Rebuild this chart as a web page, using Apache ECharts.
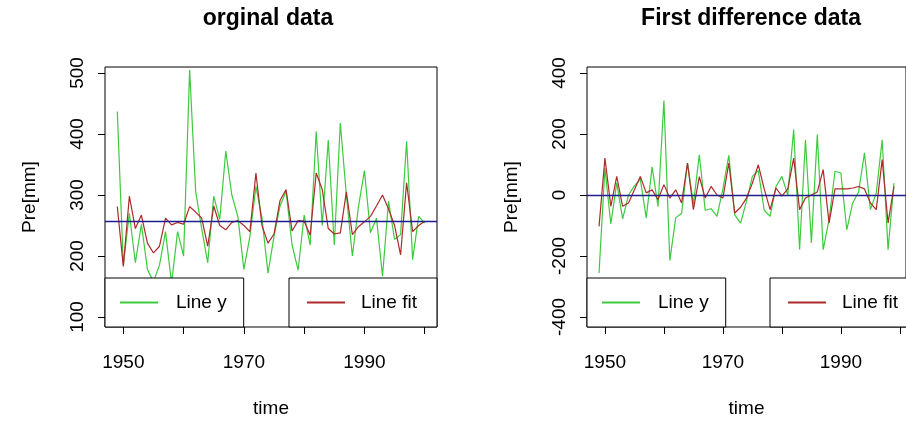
<!DOCTYPE html>
<html><head><meta charset="utf-8">
<script src="https://cdn.jsdelivr.net/npm/echarts@6/dist/echarts.min.js"></script>
<style>html,body{margin:0;padding:0;background:#fff}#c{width:906px;height:423px}</style>
</head><body><div id="c"></div>
<script>
// ---- data ----
const years = [1949,1950,1951,1952,1953,1954,1955,1956,1957,1958,1959,1960,1961,1962,1963,1964,1965,1966,1967,1968,1969,1970,1971,1972,1973,1974,1975,1976,1977,1978,1979,1980,1981,1982,1983,1984,1985,1986,1987,1988,1989,1990,1991,1992,1993,1994,1995,1996,1997,1998,1999,2000];
const origY = [437,185,270,189,252,178,158,185,240,155,240,200,505,306,245,189,298,260,372,300,265,178,232,314,262,172,232,282,306,218,177,267,218,404,250,390,218,418,300,200,280,340,238,262,167,290,227,235,388,194,265,254];
const origFit = [281,183,298,245,267,221,205,216,262,251,255,252,281,272,262,216,282,250,243,255,258,250,240,336,250,221,236,291,309,241,258,257,234,336,309,245,236,238,305,235,248,256,265,282,300,277,250,202,320,240,250,257];
const diffYears = [1949,1950,1951,1952,1953,1954,1955,1956,1957,1958,1959,1960,1961,1962,1963,1964,1965,1966,1967,1968,1969,1970,1971,1972,1973,1974,1975,1976,1977,1978,1979,1980,1981,1982,1983,1984,1985,1986,1987,1988,1989,1990,1991,1992,1993,1994,1995,1996,1997,1998,1999];
const diffY = [-256,88,-95,40,-78,0,30,52,-75,92,-38,310,-215,-75,-60,105,-30,132,-50,-45,-70,20,130,-65,-92,-20,61,80,-50,-70,28,61,0,215,-179,181,-157,198,-179,-81,78,72,-114,-26,10,138,-48,7,181,-179,39];
const diffFit = [-103,121,-37,61,-37,-26,17,61,7,17,-15,34,-10,17,-26,105,-48,60,-10,28,0,-10,105,-59,-40,-10,39,99,20,-48,23,-4,20,121,-48,-10,0,10,83,-92,20,20,20,23,28,20,-26,-48,116,-92,28];
const origMean = [257];
const diffMean = [0];
const xTicks = [1950,1960,1970,1980,1990,2000];
const xLabels = [1950,1970,1990];
const origYTicks = [100,200,300,400,500];
const diffYTicks = [-400,-200,0,200,400];

// ---- styles ----
const FONT = 'Liberation Sans';
const GREEN = '#3ccb3c', RED = '#ad2a2a', NAVY = '#1e1e8e';
const txt = {color:'#000', fontFamily:FONT, fontSize:19};

function xAxis(gi, min, max){
  return {type:'value', gridIndex:gi, min:min, max:max,
    axisLine:{show:false, onZero:false}, splitLine:{show:false},
    axisTick:{show:true, length:7, customValues:xTicks, lineStyle:{color:'#000', width:1}},
    axisLabel:Object.assign({customValues:xLabels, margin:26, formatter:v=>String(v)}, txt),
    name:'time', nameLocation:'middle', nameGap:72, nameTextStyle:Object.assign({}, txt)};
}
function yAxis(gi, min, max, ticks){
  return {type:'value', gridIndex:gi, min:min, max:max,
    axisLine:{show:false, onZero:false}, splitLine:{show:false},
    axisTick:{show:true, length:7, customValues:ticks, lineStyle:{color:'#000', width:1}},
    axisLabel:Object.assign({customValues:ticks, rotate:90, margin:18, formatter:v=>String(v)}, txt),
    name:'Pre[mm]', nameLocation:'middle', nameGap:66, nameRotate:90, nameTextStyle:Object.assign({}, txt)};
}
function lineSeries(name, xi, xs, ys, color, mean){
  const s = {type:'line', name:name, xAxisIndex:xi, yAxisIndex:xi,
    data: xs.map((x,i)=>[x, ys[i]]), symbol:'none', showSymbol:false,
    lineStyle:{color:color, width:1.2}, itemStyle:{color:color}, animation:false};
  if (mean) {
    s.markLine = {silent:true, symbol:['none','none'], label:{show:false}, animation:false,
      lineStyle:{color:NAVY, width:1.4, type:'solid'}, data:[{yAxis: mean[0]}]};
  }
  return s;
}
function legendBox(name, left, padLeft, textPad, padRight){
  return {data:[name], left:left, top:278, orient:'horizontal', selectedMode:false,
    backgroundColor:'#fff', borderColor:'#000', borderWidth:1,
    padding:[15, padRight, 15, padLeft], icon:'rect', itemWidth:38, itemHeight:2,
    textStyle:Object.assign({padding:[0,0,0,textPad]}, txt)};
}

const option = {
  animation:false,
  backgroundColor:'#fff',
  title:[
    {text:'orginal data', left:268, top:7, textAlign:'center', padding:0,
      textStyle:{fontFamily:FONT, fontSize:23, fontWeight:'bold', color:'#000'}},
    {text:'First difference data', left:751, top:7, textAlign:'center', padding:0,
      textStyle:{fontFamily:FONT, fontSize:23, fontWeight:'bold', color:'#000'}}
  ],
  grid:[
    {left:105, top:67, width:332, height:260, show:true, borderColor:'#000', borderWidth:1, backgroundColor:'transparent'},
    {left:587, top:67, width:333, height:260, show:true, borderColor:'#000', borderWidth:1, backgroundColor:'transparent'}
  ],
  xAxis:[xAxis(0, 1946.96, 2002.04), xAxis(1, 1946.96, 2001.04)],
  yAxis:[yAxis(0, 83.6, 509.8, origYTicks), yAxis(1, -432.8, 419.7, diffYTicks)],
  legend:[legendBox('Line y', 105, 15, 13, 17), legendBox('Line fit', 289, 18, 11, 20),
          legendBox('Line y', 587, 15, 13, 17), legendBox('Line fit', 770, 18, 11, 20)],
  series:[
    lineSeries('Line y', 0, years, origY, GREEN),
    lineSeries('Line fit', 0, years, origFit, RED, origMean),
    lineSeries('Line y', 1, diffYears, diffY, GREEN),
    lineSeries('Line fit', 1, diffYears, diffFit, RED, diffMean)
  ]
};
const chart = echarts.init(document.getElementById('c'), null, {renderer:'canvas'});
chart.setOption(option);
</script>
</body></html>
